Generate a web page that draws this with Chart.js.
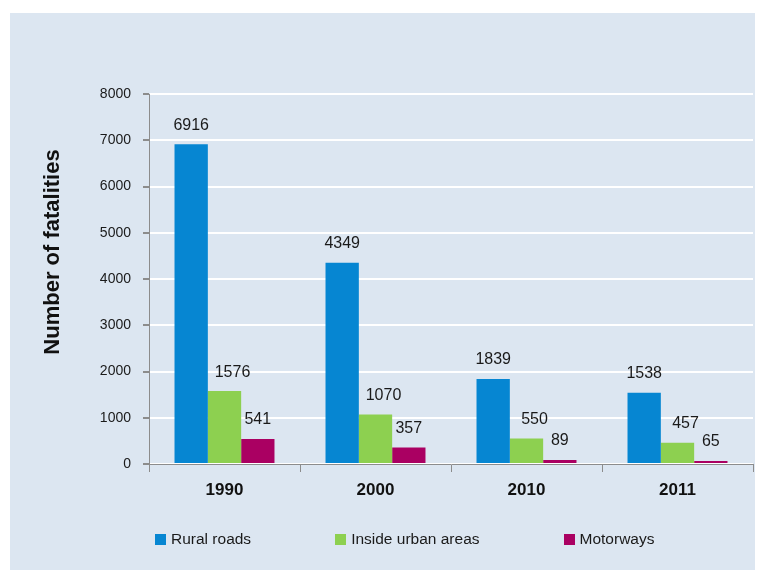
<!DOCTYPE html>
<html>
<head>
<meta charset="utf-8">
<script src="https://cdn.jsdelivr.net/npm/chart.js@4.4.0/dist/chart.umd.min.js"></script>
<style>
  body { margin: 0; background: #fff; }
  #wrap { position: relative; width: 760px; height: 574px; }
  #legend { position: absolute; left: 155px; top: 530px; display: flex; gap: 84px;
    font: 15.5px "Liberation Sans", Arial, sans-serif; color: #1a1a1a; line-height: 18px; }
  .item { display: flex; align-items: center; }
  .box { width: 11px; height: 11px; margin-right: 5px; }
</style>
</head>
<body>
<div id="wrap">
  <canvas id="myChart" width="760" height="574"></canvas>
  <div id="legend"></div>
</div>
<script>
let canva = document.querySelector('#myChart')

const years = ['1990', '2000', '2010', '2011']
const rural_roads = [6916, 4349, 1839, 1538]
const urban_areas = [1576, 1070, 550, 457]
const motorways = [541, 357, 89, 65]
const y_ticks = [0, 1000, 2000, 3000, 4000, 5000, 6000, 7000, 8000]
const y_title = 'Number of fatalities'

// light blue panel behind everything
const panel = {
  id: 'panel',
  beforeDraw(chart) {
    let ctx = chart.ctx
    ctx.save()
    ctx.fillStyle = '#dce6f1'
    ctx.fillRect(10, 13, 745, 557)
    ctx.restore()
  }
}

// value above each bar + rotated y title
const labels_plugin = {
  id: 'labels_plugin',
  afterDatasetsDraw(chart) {
    let ctx = chart.ctx
    ctx.save()
    ctx.font = '16px "Liberation Sans", Arial, sans-serif'
    ctx.fillStyle = '#1a1a1a'
    ctx.textAlign = 'center'
    ctx.textBaseline = 'middle'
    chart.data.datasets.forEach((ds, i) => {
      let meta = chart.getDatasetMeta(i)
      let shift = i == 1 ? 8 : 0
      meta.data.forEach((bar, j) => {
        ctx.fillText(ds.data[j], bar.x + shift, bar.y - 19)
      })
    })
    ctx.translate(53, 252)
    ctx.rotate(-Math.PI / 2)
    ctx.font = 'bold 22px "Liberation Sans", Arial, sans-serif'
    ctx.fillStyle = '#111'
    ctx.fillText(y_title, 0, 0)
    ctx.restore()
  }
}

const data = {
  labels: years,
  datasets: [{
    label: 'Rural roads',
    data: rural_roads,
    backgroundColor: 'rgb(6, 134, 210)'
  }, {
    label: 'Inside urban areas',
    data: urban_areas,
    backgroundColor: 'rgb(141, 208, 80)'
  }, {
    label: 'Motorways',
    data: motorways,
    backgroundColor: 'rgb(170, 0, 98)'
  }]
}

const config = {
  type: 'bar',
  data: data,
  options: {
    responsive: false,
    animation: false,
    categoryPercentage: 0.662,
    barPercentage: 1,
    layout: { padding: { left: 0, right: 7, top: 94, bottom: 0 } },
    plugins: {
      legend: { display: false },
      tooltip: { enabled: false }
    },
    scales: {
      x: {
        afterFit(scale) { scale.height = 110 },
        grid: { offset: true, drawOnChartArea: false, tickLength: 8, color: '#8c8c8c' },
        border: { color: '#8c8c8c', width: 1 },
        ticks: {
          padding: 8,
          color: '#111',
          font: { family: '"Liberation Sans", Arial', size: 17, weight: 'bold' }
        }
      },
      y: {
        min: 0,
        max: 8000,
        afterFit(scale) { scale.width = 149 },
        afterBuildTicks(scale) { scale.ticks = y_ticks.map(v => ({ value: v })) },
        grid: { color: '#ffffff', lineWidth: 2, tickColor: '#8c8c8c', tickLength: 6 },
        border: { color: '#8c8c8c', width: 1 },
        ticks: {
          padding: 12,
          color: '#1a1a1a',
          font: { family: '"Liberation Sans", Arial', size: 14 },
          callback: v => String(v)
        }
      }
    }
  },
  plugins: [panel, labels_plugin]
}

let chart = new Chart(canva, config)

// html legend built from the datasets
let legend = document.querySelector('#legend')
chart.data.datasets.forEach(ds => {
  let item = document.createElement('div')
  item.className = 'item'
  let box = document.createElement('span')
  box.className = 'box'
  box.style.background = ds.backgroundColor
  let txt = document.createElement('span')
  txt.textContent = ds.label
  item.appendChild(box)
  item.appendChild(txt)
  legend.appendChild(item)
})
</script>
</body>
</html>
